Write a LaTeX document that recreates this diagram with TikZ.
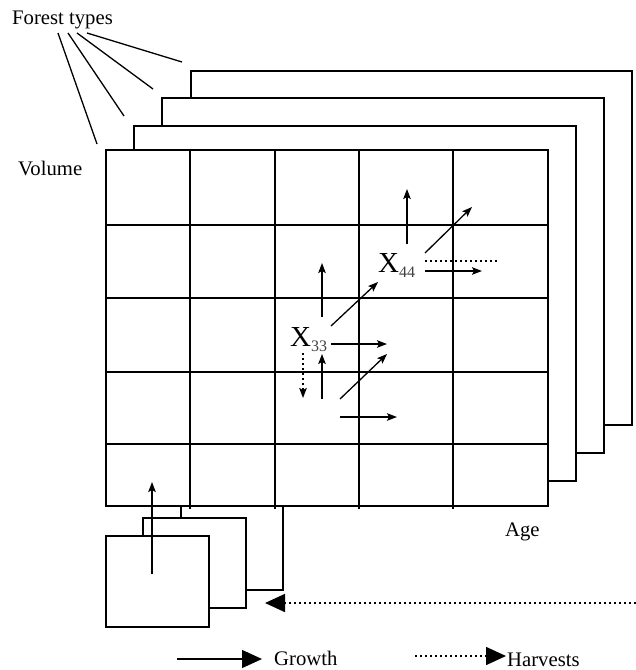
\documentclass[tikz,border=0pt]{standalone}
\usepackage{fontspec}
\setmainfont{Liberation Serif}
\usetikzlibrary{arrows.meta}
\definecolor{subgray}{HTML}{404040}
\tikzset{
  sheet/.style={draw=black, fill=white, line width=1.7pt},
  gridline/.style={draw=black, line width=1.7pt},
  lbl/.style={inner sep=0pt, anchor=base west, font=\fontsize{20.7}{24}\selectfont},
  xlbl/.style={inner sep=0pt, anchor=base west, font=\fontsize{29}{30}\selectfont},
  growarrow/.style={line width=1.3pt, -{Stealth[length=10pt,width=7.5pt,inset=2pt]}},
  harvline/.style={line width=1.6pt, dash pattern=on 1.6pt off 3.4pt},
  harvtip/.style={harvline, -{Stealth[length=10pt,width=7.5pt,inset=2pt]}},
  bigtip/.style={-{Triangle[length=20pt,width=18pt]}},
  ftline/.style={line width=1.3pt},
}
\begin{document}
\begin{tikzpicture}[x=1pt,y=-1pt]
\useasboundingbox (0,0) rectangle (636,670);
% background sheets (forest types)
\path[sheet] (191,71) rectangle (632,425);
\path[sheet] (162,98) rectangle (604,453);
\path[sheet] (134,126) rectangle (576,481);
% back box at bottom (hidden top)
\path[sheet] (181,500) rectangle (283,590);
% main grid
\path[sheet] (106,150) rectangle (548,506);
\foreach \xx in {190,275,359,453} \draw[gridline] (\xx,150) -- (\xx,509);
\foreach \yy in {225,298,372,444} \draw[gridline] (106,\yy) -- (548,\yy);
% bottom boxes
\path[sheet] (143,518) rectangle (246,608);
\path[sheet] (106,536) rectangle (209,627);

% labels
\node[lbl] (ft) at (12,24) {Forest types};
\node[lbl] (vol) at (18,175) {Volume};
\node[lbl] (age) at (505,536) {Age};
\node[lbl] (grw) at (274,665) {Growth};
\node[lbl] (hrv) at (507,666) {Harvests};
\node[xlbl] (x33) at (290,346) {X\raisebox{-5pt}{\fontsize{16}{16}\selectfont\color{subgray}33}};
\node[xlbl] (x44) at (378,272) {X\raisebox{-5pt}{\fontsize{16}{16}\selectfont\color{subgray}44}};

% forest type lines
\coordinate (f1a) at (58,33); \coordinate (f1b) at (97,144);
\coordinate (f2a) at (68,33); \coordinate (f2b) at (124,116);
\coordinate (f3a) at (77,33); \coordinate (f3b) at (153,89);
\coordinate (f4a) at (87,33); \coordinate (f4b) at (182,62);
\draw[ftline] (f1a) -- (f1b);
\draw[ftline] (f2a) -- (f2b);
\draw[ftline] (f3a) -- (f3b);
\draw[ftline] (f4a) -- (f4b);

% growth arrows around X33
\coordinate (a1s) at (322,317); \coordinate (a1e) at (322,263);
\coordinate (a2s) at (331,326); \coordinate (a2e) at (378,282);
\coordinate (a3s) at (331,344); \coordinate (a3e) at (387,344);
\coordinate (a4s) at (303,353); \coordinate (a4e) at (303,398);
\coordinate (a5s) at (322,399); \coordinate (a5e) at (322,354);
\coordinate (a6s) at (340,399); \coordinate (a6e) at (387,354);
\coordinate (a7s) at (340,417); \coordinate (a7e) at (397,417);
\draw[growarrow] (a1s) -- (a1e);
\draw[growarrow] (a2s) -- (a2e);
\draw[growarrow] (a3s) -- (a3e);
\draw[harvtip] (a4s) -- (a4e);
\draw[growarrow] (a5s) -- (a5e);
\draw[growarrow] (a6s) -- (a6e);
\draw[growarrow] (a7s) -- (a7e);
% around X44
\coordinate (b1s) at (407,244); \coordinate (b1e) at (407,189);
\coordinate (b2s) at (425,253); \coordinate (b2e) at (472,207);
\coordinate (b3s) at (425,261); \coordinate (b3e) at (497,261);
\coordinate (b4s) at (425,271); \coordinate (b4e) at (482,271);
\draw[growarrow] (b1s) -- (b1e);
\draw[growarrow] (b2s) -- (b2e);
\draw[harvline] (b3s) -- (b3e);
\draw[growarrow] (b4s) -- (b4e);

% bottom up arrow
\coordinate (c1s) at (152,574); \coordinate (c1e) at (152,482);
\draw[growarrow] (c1s) -- (c1e);
% harvest flow back
\coordinate (d1s) at (636,603); \coordinate (d1e) at (265,603);
\draw[harvline, bigtip] (d1s) -- (d1e);

% legend
\coordinate (g1s) at (177,659); \coordinate (g1e) at (262,659);
\draw[line width=1.3pt, bigtip] (g1s) -- (g1e);
\coordinate (h1s) at (415,656); \coordinate (h1e) at (506,656);
\draw[harvline, bigtip] (h1s) -- (h1e);
\end{tikzpicture}
\end{document}
